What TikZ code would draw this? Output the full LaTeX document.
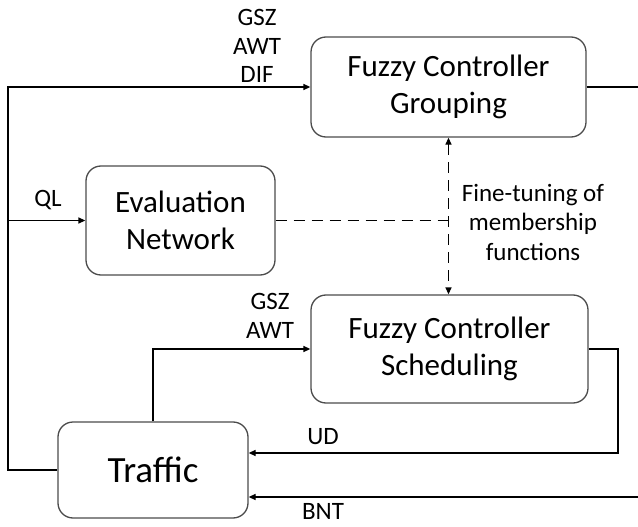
\documentclass[tikz,border=0pt]{standalone}
\usepackage{fontspec}
\setmainfont{Carlito}
\usetikzlibrary{arrows.meta,positioning}

\begin{document}
\begin{tikzpicture}[x=1pt , y=-1pt , >={Triangle[length=7pt,width=6pt]} , line width=1.3pt ,
  block/.style={ draw=black!70 , rounded corners=15pt , align=center , font=\fontsize{31}{37}\selectfont , inner sep=0pt } ,
  lbl/.style={ align=center , font=\fontsize{25}{28.5}\selectfont , inner sep=0pt } ,
  tune/.style={ dashed , dash pattern=on 11pt off 7pt } ]
\useasboundingbox (0,0) rectangle (638,527);
\node [ block , minimum width=275pt , minimum height=100pt ] (group) at (448.5,87) {Fuzzy Controller\\Grouping};
\node [ block , minimum width=189pt , minimum height=109pt ] (eval) at (180.5,220.5) {Evaluation\\Network};
\node [ block , minimum width=277pt , minimum height=108pt ] (sched) at (449.5,349) {Fuzzy Controller\\Scheduling};
\node [ block , minimum width=190pt , minimum height=96pt , font=\fontsize{37}{40}\selectfont ] (traffic) at (153,470) {Traffic};
\coordinate (lft) at (8,220.5);
\coordinate (gout) at (638,87);
\coordinate (bntin) at (638,497);
\coordinate (sturn) at (618,349);
% inputs from traffic
\draw (traffic.west) -| (lft);
\draw [->] (lft) |- (group.west);
\draw [->] (lft) -- (eval.west);
\draw [->] (traffic.north) |- (sched.west);
% outputs
\draw (group.east) -- (gout);
\draw [->] (sched.east) -- (sturn) |- ([yshift=17pt]traffic.east);
\draw [->] (bntin) -- ([yshift=-27pt]traffic.east);
% tuning
\draw [tune] (eval.east) -- (group.south |- eval.east);
\draw [tune , <->] (group.south) -- (group.south |- sched.north);
% labels
\node [ lbl ] (lgrp) at (257,46) {GSZ\\AWT\\DIF};
\node [ lbl ] (lql) at (48,200) {QL};
\node [ lbl ] (lsch) at (270,316) {GSZ\\AWT};
\node [ lbl ] (lud) at (323,437) {UD};
\node [ lbl ] (lbnt) at (323,511) {BNT};
\node [ lbl , font=\fontsize{25}{29.5}\selectfont ] (ltune) at (533,222) {Fine-tuning of\\membership\\functions};
\end{tikzpicture}
\end{document}
